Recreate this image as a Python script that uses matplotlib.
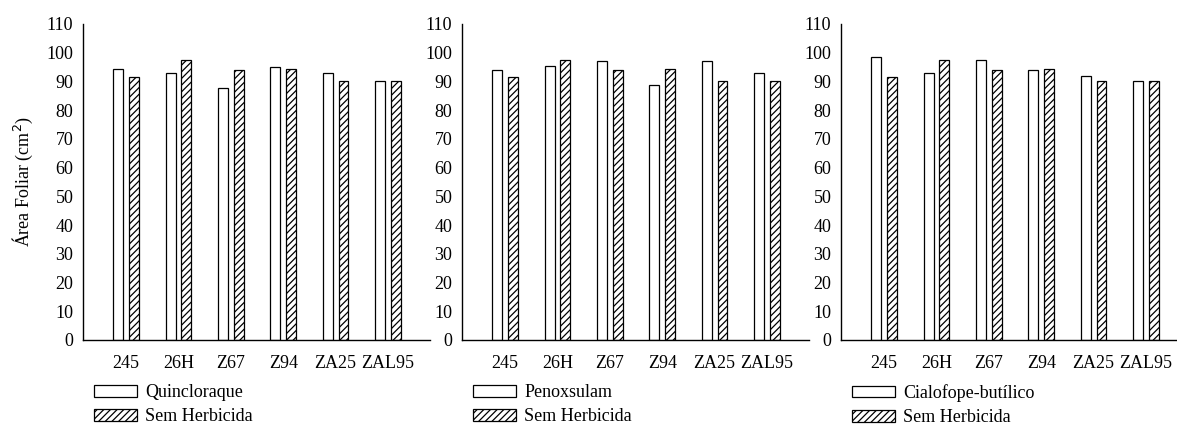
import matplotlib
matplotlib.use("Agg")
import matplotlib.pyplot as plt
import numpy as np

plt.rcParams['font.family'] = ['Liberation Serif', 'DejaVu Serif']
plt.rcParams['hatch.linewidth'] = 0.9

categories = ["245", "26H", "Z67", "Z94", "ZA25", "ZAL95"]
herbicides = ["Quincloraque", "Penoxsulam", "Cialofope-butílico"]
quincloraque = [94.2, 93.0, 87.6, 95.0, 92.8, 90.3]
penoxsulam = [93.9, 95.5, 97.0, 88.9, 97.1, 93.0]
cialofope = [98.4, 93.1, 97.3, 94.1, 91.8, 90.2]
sem_herbicida = [91.4, 97.5, 94.1, 94.2, 90.3, 90.0]
control_label = "Sem Herbicida"
yticks = list(range(0, 111, 10))

treated = [quincloraque, penoxsulam, cialofope]

fig = plt.figure(figsize=(11.77, 4.28), dpi=100)
W, H = 1177, 428
lefts = [83, 462, 841]
ax_w = 347
bottom_px, top_px = 340, 24

x = np.arange(len(categories))
bw = 0.19
off = 0.15
fs = 13

for i in range(3):
    ax = fig.add_axes([lefts[i] / W, 1 - bottom_px / H, ax_w / W, (bottom_px - top_px) / H])
    ax.bar(x - off, treated[i], width=bw, color='white', edgecolor='black',
           linewidth=0.9, label=herbicides[i])
    ax.bar(x + off, sem_herbicida, width=bw, color='white', edgecolor='black',
           linewidth=0.9, hatch='/////', label=control_label)
    ax.set_xlim(-0.82, 5.8)
    ax.set_ylim(0, 110)
    ax.set_yticks(yticks)
    ax.set_xticks(x)
    ax.set_xticklabels(categories)
    ax.tick_params(axis='both', length=0, labelsize=fs)
    ax.tick_params(axis='y', pad=7)
    ax.tick_params(axis='x', pad=11)
    for s in ['top', 'right']:
        ax.spines[s].set_visible(False)
    for s in ['left', 'bottom']:
        ax.spines[s].set_linewidth(1.0)
    if i == 0:
        ax.set_ylabel("Área Foliar (cm$^2$)", fontsize=fs, labelpad=8)
    leg = ax.legend(loc='upper left', bbox_to_anchor=(11 / ax_w, -0.14),
                    frameon=False, fontsize=fs, handlelength=2.4, handleheight=0.6,
                    handletextpad=0.45, labelspacing=0.4, borderaxespad=0, borderpad=0)

fig.savefig("out.png", dpi=100)
